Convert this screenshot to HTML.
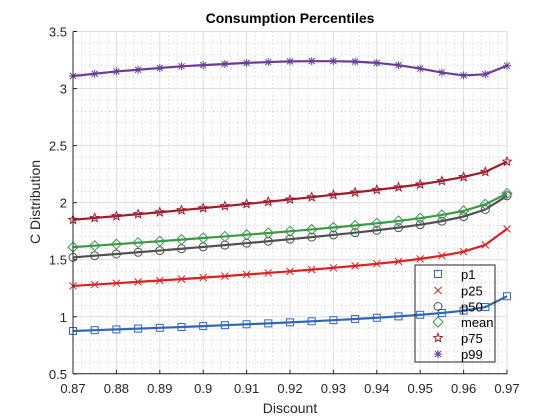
<!DOCTYPE html>
<html><head><meta charset="utf-8"><style>
html,body{margin:0;padding:0;background:#fff;}
svg{display:block;font-family:"Liberation Sans",sans-serif;}
</style></head><body>
<svg id="chart" width="560" height="420" viewBox="0 0 560 420" xmlns="http://www.w3.org/2000/svg">
<rect x="0" y="0" width="560" height="420" fill="#fff"/>
<g id="grid"></g>
<g id="series"></g>
<g id="axes"></g>
<text x="290" y="23" text-anchor="middle" font-size="14" font-weight="bold" fill="#000">Consumption Percentiles</text>
<text x="290" y="413" text-anchor="middle" font-size="14" fill="#262626">Discount</text>
<text transform="translate(40,202) rotate(-90)" text-anchor="middle" font-size="14" fill="#262626">C Distribution</text>
<g id="legend"></g>
</svg>
<script>
const xValues = [0.87,0.875,0.88,0.885,0.89,0.895,0.90,0.905,0.91,0.915,0.92,0.925,0.93,0.935,0.94,0.945,0.95,0.955,0.96,0.965,0.97];
const p1 = [0.875,0.882,0.889,0.896,0.903,0.910,0.918,0.926,0.934,0.942,0.951,0.960,0.970,0.980,0.991,1.003,1.017,1.033,1.053,1.085,1.18];
const p25 = [1.270,1.282,1.294,1.306,1.318,1.330,1.343,1.356,1.370,1.384,1.398,1.413,1.429,1.446,1.464,1.484,1.507,1.535,1.570,1.630,1.770];
const p50 = [1.520,1.535,1.550,1.565,1.580,1.596,1.612,1.628,1.645,1.662,1.680,1.698,1.717,1.737,1.758,1.781,1.807,1.838,1.878,1.940,2.060];
const meanVals = [1.610,1.623,1.636,1.649,1.662,1.676,1.690,1.704,1.719,1.734,1.749,1.765,1.782,1.800,1.819,1.840,1.864,1.892,1.928,1.985,2.080];
const p75 = [1.850,1.866,1.882,1.899,1.916,1.934,1.952,1.970,1.989,2.008,2.028,2.048,2.069,2.090,2.112,2.135,2.160,2.190,2.225,2.270,2.360];
const p99 = [3.110,3.130,3.150,3.165,3.180,3.195,3.205,3.215,3.225,3.232,3.238,3.240,3.240,3.236,3.225,3.205,3.175,3.140,3.115,3.125,3.200];
const xTicks = [0.87,0.88,0.89,0.90,0.91,0.92,0.93,0.94,0.95,0.96,0.97];
const xTickLabels = ["0.87","0.88","0.89","0.9","0.91","0.92","0.93","0.94","0.95","0.96","0.97"];
const yTicks = [0.5,1,1.5,2,2.5,3,3.5];
const yTickLabels = ["0.5","1","1.5","2","2.5","3","3.5"];
const seriesNames = ["p1","p25","p50","mean","p75","p99"];

const L=73,R=507,T=31.5,B=373.8;
const X0=0.87,X1=0.97,Y0=0.5,Y1=3.5;
function sx(v){return L+(v-X0)/(X1-X0)*(R-L);}
function sy(v){return B-(v-Y0)/(Y1-Y0)*(B-T);}
const NS="http://www.w3.org/2000/svg";
function mk(tag,attrs,parent){const e=document.createElementNS(NS,tag);for(const k in attrs)e.setAttribute(k,attrs[k]);parent.appendChild(e);return e;}

const grid=document.getElementById('grid');
for(let i=0;i<=50;i++){const v=X0+i*0.002;if(i%5===0)continue;const x=sx(v);
 const l=mk('line',{x1:x,x2:x,y1:T,y2:B,stroke:'#b8b8b8','stroke-width':0.7,'stroke-dasharray':'1,3'},grid);
 
 }
for(let i=0;i<=30;i++){const v=Y0+i*0.1;if(i%5===0)continue;const y=sy(v);
 const l=mk('line',{x1:L,x2:R,y1:y,y2:y,stroke:'#b8b8b8','stroke-width':0.7,'stroke-dasharray':'1,3'},grid);
 
 }
xTicks.forEach(v=>{const x=sx(v);
 const l=mk('line',{x1:x,x2:x,y1:T,y2:B,stroke:'#dedede','stroke-width':1},grid);
 
 });
yTicks.forEach(v=>{const y=sy(v);
 const l=mk('line',{x1:L,x2:R,y1:y,y2:y,stroke:'#dedede','stroke-width':1},grid);
 
 });

const colors=["#3366bb","#e02020","#505050","#3a9a48","#a01c2c","#6a3d9a"];
const markers=["square","x","circle","diamond","star","asterisk"];
function marker(g,type,x,y,c){
 const a={fill:'none',stroke:c,'stroke-width':1};let e;
 if(type==='square')e=mk('rect',Object.assign({x:x-3.5,y:y-3.5,width:7,height:7},a),g);
 else if(type==='x')e=mk('path',Object.assign({d:`M${x-3.5},${y-3.5}L${x+3.5},${y+3.5}M${x-3.5},${y+3.5}L${x+3.5},${y-3.5}`},a),g);
 else if(type==='circle')e=mk('circle',Object.assign({cx:x,cy:y,r:4},a),g);
 else if(type==='diamond')e=mk('path',Object.assign({d:`M${x},${y-5}L${x+5},${y}L${x},${y+5}L${x-5},${y}Z`},a),g);
 else if(type==='star'){let d='';for(let k=0;k<10;k++){const r=k%2?2:4.5;const an=-Math.PI/2+k*Math.PI/5;d+=(k?'L':'M')+(x+r*Math.cos(an)).toFixed(2)+','+(y+r*Math.sin(an)).toFixed(2);}e=mk('path',Object.assign({d:d+'Z'},a),g);}
 else {e=mk('path',Object.assign({d:`M${x-4},${y}L${x+4},${y}M${x},${y-4}L${x},${y+4}M${x-3},${y-3}L${x+3},${y+3}M${x-3},${y+3}L${x+3},${y-3}`},a),g);}
 return e;
}
const seriesData=[p1,p25,p50,meanVals,p75,p99];
const sl=document.getElementById('series');
seriesData.forEach((arr,si)=>{
 const g=mk('g',{},sl);
 
 
 const pts=arr.map((v,i)=>sx(xValues[i]).toFixed(2)+','+sy(v).toFixed(2)).join(' ');
 const pl=mk('polyline',{points:pts,fill:'none',stroke:colors[si],'stroke-width':2.2},g);
 
 
 arr.forEach((v,i)=>{const m=marker(g,markers[si],sx(xValues[i]),sy(v),colors[si]);
  
  });
});

const ax=document.getElementById('axes');
const xl=mk('line',{x1:L,x2:R,y1:B,y2:B,stroke:'#262626','stroke-width':1},ax);


const yl=mk('line',{x1:L,x2:L,y1:T,y2:B,stroke:'#262626','stroke-width':1},ax);


xTicks.forEach((v,i)=>{const x=sx(v);
 const t=mk('line',{x1:x,x2:x,y1:B,y2:B-4,stroke:'#262626'},ax);
 
 
 const tx=mk('text',{x:x,y:B+19,'text-anchor':'middle','font-size':13,fill:'#262626'},ax);
 tx.textContent=xTickLabels[i];
 
 });
yTicks.forEach((v,i)=>{const y=sy(v);
 const t=mk('line',{x1:L,x2:L+4,y1:y,y2:y,stroke:'#262626'},ax);
 
 
 const tx=mk('text',{x:L-6,y:y+5,'text-anchor':'end','font-size':13,fill:'#262626'},ax);
 tx.textContent=yTickLabels[i];
 
 });

const lg=document.getElementById('legend');
const box=mk('rect',{x:415,y:265,width:80,height:97,fill:'none',stroke:'#262626','stroke-width':1},lg);


const ly=[274,290.5,306.5,322,338,354];
seriesNames.forEach((n,i)=>{
 const g=mk('g',{},lg);
 
 
 marker(g,markers[i],438,ly[i],colors[i]);
 const t=mk('text',{x:461,y:ly[i]+5,'font-size':13,fill:'#000'},g);
 t.textContent=n;});
</script>
</body></html>
